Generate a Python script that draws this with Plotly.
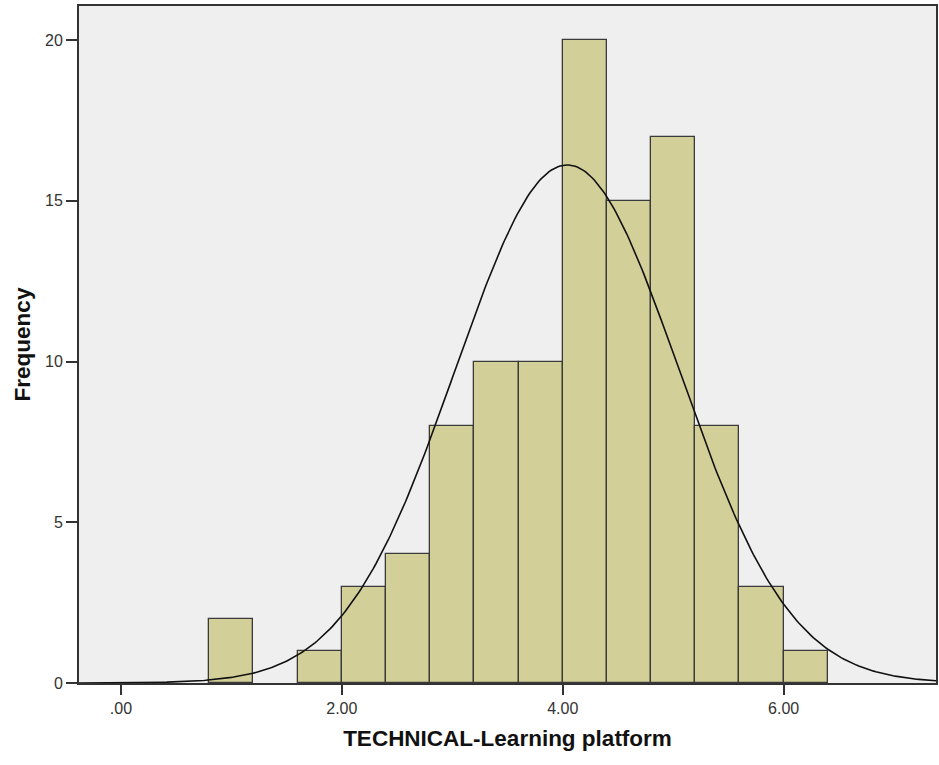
import numpy as np
import plotly.graph_objects as go

# Histogram data (bin left edges, width 0.4) and counts
bin_left = [0.8, 1.6, 2.0, 2.4, 2.8, 3.2, 3.6, 4.0, 4.4, 4.8, 5.2, 5.6, 6.0]
counts = [2, 1, 3, 4, 8, 10, 10, 20, 15, 17, 8, 3, 1]
bin_width = 0.4

# Normal curve parameters (fit statistics)
mean_val = 4.04
sd_val = 1.01
n_total = sum(counts)

x_tickvals = [0, 2, 4, 6]
x_ticktext = [".00", "2.00", "4.00", "6.00"]
y_tickvals = [0, 5, 10, 15, 20]

centers = [b + bin_width / 2 for b in bin_left]

xc = np.linspace(-0.38, 7.38, 400)
yc = n_total * bin_width / (sd_val * np.sqrt(2 * np.pi)) * np.exp(-0.5 * ((xc - mean_val) / sd_val) ** 2)

fig = go.Figure()
fig.add_trace(go.Bar(
    x=centers, y=counts, width=bin_width,
    marker=dict(color="#D3CF99", line=dict(color="#3a3a3a", width=1.3)),
    hoverinfo="skip",
))
fig.add_trace(go.Scatter(
    x=xc, y=yc, mode="lines",
    line=dict(color="#111111", width=1.6),
    hoverinfo="skip",
))

font_family = "Liberation Sans, Arial, sans-serif"
fig.update_layout(
    width=939, height=765,
    margin=dict(l=79, r=1, t=6, b=82),
    paper_bgcolor="white",
    plot_bgcolor="#EFEFEF",
    showlegend=False,
    bargap=0,
    font=dict(family=font_family, size=16, color="#333333"),
    xaxis=dict(
        range=[-0.38, 7.38],
        tickvals=x_tickvals, ticktext=x_ticktext,
        ticks="outside", ticklen=10, tickwidth=2, tickcolor="#333333",
        showline=True, linecolor="#333333", linewidth=2, mirror=True,
        showgrid=False, zeroline=False,
        tickfont=dict(size=16, color="#333333"),
        title=dict(text="<b>TECHNICAL-Learning platform</b>", font=dict(size=22.5, color="#111111"), standoff=14),
    ),
    yaxis=dict(
        range=[0, 21.06],
        tickvals=y_tickvals,
        ticks="outside", ticklen=11, tickwidth=2, tickcolor="#333333",
        showline=True, linecolor="#333333", linewidth=2, mirror=True,
        showgrid=False, zeroline=False,
        tickfont=dict(size=16, color="#333333"),
        title=dict(text="<b>Frequency</b>", font=dict(size=22.5, color="#111111"), standoff=8),
    ),
)

fig.write_html("out.html")
